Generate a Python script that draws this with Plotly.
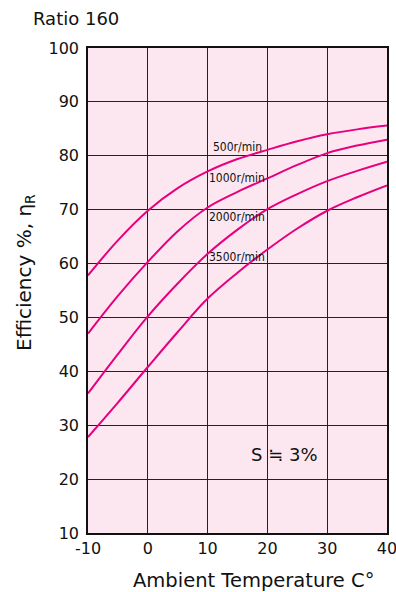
import plotly.graph_objects as go

temps = [-10, -5, 0, 5, 10, 15, 20, 25, 30, 35, 40]
eff_500 = [57.8, 64.3, 69.8, 74.0, 77.1, 79.4, 81.1, 82.7, 84.0, 84.9, 85.6]
eff_1000 = [47.0, 54.0, 60.3, 66.0, 70.4, 73.3, 75.8, 78.3, 80.5, 81.9, 83.0]
eff_2000 = [35.9, 43.2, 50.2, 56.3, 61.8, 66.3, 70.1, 72.9, 75.3, 77.2, 78.9]
eff_3500 = [27.8, 34.2, 40.8, 47.3, 53.5, 58.3, 62.6, 66.5, 69.8, 72.3, 74.5]

series_names = ["500r/min", "1000r/min", "2000r/min", "3500r/min"]
series_vals = [eff_500, eff_1000, eff_2000, eff_3500]
label_x = [10.6, 9.9, 9.9, 9.9]
label_y = [81.6, 75.9, 68.6, 61.2]

x_ticks = [-10, 0, 10, 20, 30, 40]
y_ticks = [10, 20, 30, 40, 50, 60, 70, 80, 90, 100]

LINE = "#E6007E"
BG = "#FCE7F1"
FONT = "DejaVu Sans, Verdana, sans-serif"
NARROW = "DejaVu Sans Condensed, Liberation Sans Narrow, sans-serif"

fig = go.Figure()
for name, vals in zip(series_names, series_vals):
    fig.add_trace(go.Scatter(x=temps, y=vals, mode="lines", name=name,
                             line=dict(color=LINE, width=2, shape="spline", smoothing=1.0),
                             showlegend=False, hoverinfo="skip"))

W, H = 396, 592
L, R, T, B = 88, 9, 48, 59
pw, ph = W - L - R, H - T - B


def px(x):
    return (x - L) / pw


def py(y):
    return (H - B - y) / ph


annotations = []
for name, lx, ly in zip(series_names, label_x, label_y):
    annotations.append(dict(x=lx, y=ly, xref="x", yref="y", text=name, showarrow=False,
                            xanchor="left", yanchor="middle",
                            font=dict(family=NARROW, size=12, color="#111")))

annotations.append(dict(x=22.9, y=24.5, xref="x", yref="y", text="S ≒ 3%", showarrow=False,
                        xanchor="center", yanchor="middle",
                        font=dict(family=FONT, size=18, color="#111")))
annotations.append(dict(x=px(31), y=py(18), xref="paper", yref="paper", xanchor="left", yanchor="middle",
                        text="Ratio 160", showarrow=False,
                        font=dict(family=FONT, size=18, color="#111")))
annotations.append(dict(x=px(253), y=py(580), xref="paper", yref="paper", xanchor="center", yanchor="middle",
                        text="Ambient Temperature C°", showarrow=False,
                        font=dict(family=FONT, size=19.5, color="#111")))
annotations.append(dict(x=px(25), y=py(273), xref="paper", yref="paper", xanchor="center", yanchor="middle",
                        text="Efficiency %, η<sub>R</sub>", showarrow=False, textangle=-90,
                        font=dict(family=FONT, size=20, color="#111")))

fig.update_layout(
    width=W, height=H,
    margin=dict(l=L, r=R, t=T, b=B, pad=0),
    paper_bgcolor="white",
    plot_bgcolor=BG,
    font=dict(family=FONT, size=16, color="#111"),
    annotations=annotations,
    xaxis=dict(range=[-10, 40], tickvals=x_ticks, ticktext=[str(v) for v in x_ticks],
               showgrid=True, gridcolor="#222", gridwidth=1, zeroline=False,
               showline=True, linecolor="#111", linewidth=1.5, mirror=True, automargin=False,
               ticklabeloverflow="allow",
               ticks="", tickfont=dict(size=16, family=FONT, color="#111")),
    yaxis=dict(range=[10, 100], tickvals=y_ticks, ticktext=[str(v) for v in y_ticks],
               showgrid=True, gridcolor="#222", gridwidth=1, zeroline=False,
               showline=True, linecolor="#111", linewidth=1.5, mirror=True, automargin=False,
               ticklabeloverflow="allow",
               ticks="", ticklabelstandoff=4, tickfont=dict(size=16, family=FONT, color="#111")),
)

fig.write_html("out.html", config={"displayModeBar": False},
               post_script="document.body.style.margin='0';document.body.style.overflow='hidden';")
